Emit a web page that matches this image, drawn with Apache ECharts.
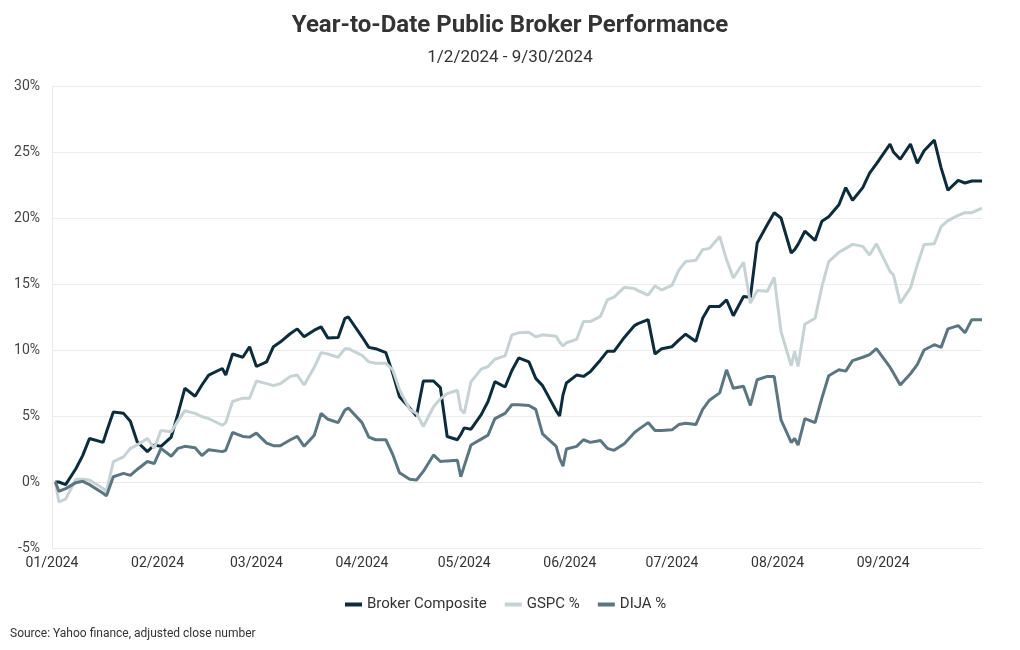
<!DOCTYPE html>
<html>
<head>
<meta charset="utf-8">
<script src="https://cdn.jsdelivr.net/npm/echarts@6/dist/echarts.min.js"></script>
<style>
  html, body { margin: 0; padding: 0; background: #ffffff; }
  #chart { width: 1020px; height: 650px; }
</style>
</head>
<body>
<div id="chart"></div>
<script>
const dates = [
  '2024-01-02','2024-01-03','2024-01-05','2024-01-08','2024-01-10','2024-01-12','2024-01-16','2024-01-17','2024-01-19','2024-01-22','2024-01-24','2024-01-26','2024-01-29','2024-01-31',
  '2024-02-02','2024-02-05','2024-02-07','2024-02-09','2024-02-12','2024-02-14','2024-02-16','2024-02-20','2024-02-21','2024-02-23','2024-02-26','2024-02-28',
  '2024-03-01','2024-03-04','2024-03-06','2024-03-08','2024-03-11','2024-03-13','2024-03-15','2024-03-18','2024-03-20','2024-03-22','2024-03-25','2024-03-27','2024-03-28',
  '2024-04-01','2024-04-03','2024-04-05','2024-04-08','2024-04-10','2024-04-12','2024-04-15','2024-04-17','2024-04-19','2024-04-22','2024-04-24','2024-04-26','2024-04-29','2024-04-30',
  '2024-05-01','2024-05-03','2024-05-06','2024-05-08','2024-05-10','2024-05-13','2024-05-15','2024-05-17','2024-05-20','2024-05-22','2024-05-24','2024-05-28','2024-05-29','2024-05-30','2024-05-31',
  '2024-06-03','2024-06-05','2024-06-07','2024-06-10','2024-06-12','2024-06-14','2024-06-17','2024-06-20','2024-06-21','2024-06-24','2024-06-26','2024-06-28',
  '2024-07-01','2024-07-03','2024-07-05','2024-07-08','2024-07-10','2024-07-12','2024-07-15','2024-07-17','2024-07-19','2024-07-22','2024-07-24','2024-07-26','2024-07-29','2024-07-31',
  '2024-08-02','2024-08-05','2024-08-06','2024-08-07','2024-08-09','2024-08-12','2024-08-14','2024-08-16','2024-08-19','2024-08-21','2024-08-23','2024-08-26','2024-08-28','2024-08-30',
  '2024-09-03','2024-09-04','2024-09-06','2024-09-09','2024-09-11','2024-09-13','2024-09-16','2024-09-18','2024-09-20','2024-09-23','2024-09-25','2024-09-27','2024-09-30'
];

const brokerComposite = [
  0, 0.0, -0.2, 1.0, 2.0, 3.3, 3.0, 3.8, 5.3, 5.2, 4.6, 3.05, 2.3, 2.8,
  2.7, 3.4, 5.2, 7.1, 6.5, 7.35, 8.1, 8.6, 8.1, 9.7, 9.45, 10.25,
  8.75, 9.1, 10.25, 10.6, 11.25, 11.6, 11.0, 11.5, 11.75, 10.9, 10.95, 12.4, 12.5,
  11.0, 10.2, 10.1, 9.8, 8.25, 6.45, 5.6, 5.0, 7.65, 7.65, 7.15, 3.45, 3.2, 3.6,
  4.1, 4.0, 5.1, 6.1, 7.6, 7.2, 8.45, 9.4, 9.1, 7.85, 7.3, 5.4, 5.0, 6.6, 7.5,
  8.1, 8.0, 8.35, 9.25, 9.9, 9.9, 10.95, 11.85, 12.0, 12.3, 9.7, 10.1,
  10.25, 10.75, 11.2, 10.65, 12.4, 13.3, 13.3, 13.8, 12.6, 14.05, 14.0, 18.1, 19.5, 20.4,
  20.0, 17.35, 17.6, 18.0, 19.0, 18.3, 19.75, 20.1, 21.0, 22.3, 21.35, 22.3, 23.4, 24.1,
  25.6, 25.0, 24.45, 25.6, 24.15, 25.1, 25.9, 23.8, 22.1, 22.85, 22.65, 22.8, 22.8
];

const gspcPct = [
  0, -1.5, -1.3, 0.2, 0.2, 0.15, -0.5, -0.7, 1.55, 1.9, 2.55, 2.8, 3.3, 2.55,
  3.9, 3.8, 4.65, 5.4, 5.2, 4.95, 4.8, 4.3, 4.5, 6.1, 6.35, 6.35,
  7.65, 7.45, 7.3, 7.45, 8.0, 8.1, 7.35, 8.7, 9.8, 9.7, 9.45, 10.1, 10.1,
  9.6, 9.1, 9.0, 9.0, 8.5, 7.0, 5.5, 5.2, 4.2, 5.7, 6.3, 6.7, 6.95, 5.5,
  5.2, 7.6, 8.55, 8.75, 9.3, 9.55, 11.15, 11.3, 11.35, 11.0, 11.15, 11.05, 10.6, 10.3, 10.55,
  10.8, 12.15, 12.15, 12.55, 13.8, 14.0, 14.75, 14.65, 14.5, 14.15, 14.85, 14.55,
  14.9, 16.05, 16.7, 16.8, 17.6, 17.7, 18.6, 16.85, 15.45, 16.65, 13.55, 14.5, 14.45, 15.5,
  11.4, 8.8, 9.9, 8.75, 11.95, 12.4, 14.8, 16.7, 17.4, 17.7, 18.0, 17.85, 17.2, 18.05,
  15.95, 15.7, 13.55, 14.7, 16.45, 18.0, 18.05, 19.35, 19.8, 20.2, 20.4, 20.4, 20.75
];

const dijaPct = [
  0, -0.7, -0.5, -0.05, 0.05, -0.2, -0.85, -1.05, 0.4, 0.65, 0.5, 0.95, 1.55, 1.4,
  2.55, 1.95, 2.55, 2.7, 2.6, 2.0, 2.45, 2.3, 2.4, 3.75, 3.45, 3.4,
  3.7, 2.95, 2.75, 2.75, 3.2, 3.45, 2.7, 3.55, 5.2, 4.75, 4.5, 5.45, 5.6,
  4.5, 3.4, 3.2, 3.2, 2.1, 0.7, 0.2, 0.15, 0.8, 2.05, 1.55, 1.6, 1.65, 0.4,
  1.2, 2.8, 3.25, 3.55, 4.8, 5.2, 5.85, 5.85, 5.8, 5.5, 3.65, 2.7, 1.8, 1.2, 2.5,
  2.7, 3.2, 3.0, 3.15, 2.55, 2.4, 2.9, 3.75, 3.95, 4.5, 3.9, 3.9,
  3.95, 4.35, 4.45, 4.35, 5.5, 6.2, 6.75, 8.5, 7.1, 7.25, 5.8, 7.75, 8.0, 8.0,
  4.7, 3.0, 3.3, 2.8, 4.8, 4.5, 6.35, 8.05, 8.5, 8.4, 9.2, 9.45, 9.65, 10.1,
  8.7, 8.25, 7.35, 8.2, 8.9, 10.0, 10.4, 10.2, 11.6, 11.85, 11.3, 12.3, 12.3
];

const seriesNames = ['Broker Composite', 'GSPC %', 'DIJA %'];
const yTicks = [-5, 0, 5, 10, 15, 20, 25, 30];

const FONT = 'Roboto, "Noto Sans", sans-serif';
const colors = ['#0c2b3b', '#c6d2d4', '#5b7680'];

function pairs(vals) { return dates.map((d, i) => [d, vals[i]]); }

const chart = echarts.init(document.getElementById('chart'), null, { renderer: 'canvas' });
chart.setOption({
  animation: false,
  backgroundColor: '#ffffff',
  color: colors,
  textStyle: { fontFamily: FONT },
  title: {
    text: 'Year-to-Date Public Broker Performance',
    subtext: '1/2/2024 - 9/30/2024',
    left: 'center',
    top: 9,
    itemGap: 11,
    textStyle: { fontFamily: FONT, fontSize: 24, fontWeight: 'bold', color: '#333333' },
    subtextStyle: { fontFamily: FONT, fontSize: 17, color: '#333333' }
  },
  legend: {
    data: seriesNames,
    left: 340,
    top: 592,
    icon: 'rect',
    itemWidth: 17,
    itemHeight: 4,
    itemGap: 18,
    textStyle: { fontFamily: FONT, fontSize: 15, color: '#333333' }
  },
  graphic: [{
    type: 'text',
    left: 10,
    top: 628,
    style: { text: 'Source: Yahoo finance, adjusted close number', font: '12px ' + FONT, fill: '#333333' }
  }],
  grid: { left: 52, right: 38, top: 86, bottom: 102, containLabel: false },
  xAxis: {
    type: 'time',
    min: '2024-01-01',
    max: '2024-09-30',
    splitNumber: 9,
    axisLine: { show: true, lineStyle: { color: '#e8e8e8' } },
    axisTick: { show: false },
    splitLine: { show: false },
    axisLabel: {
      color: '#333333',
      fontSize: 14,
      fontFamily: FONT,
      margin: 8,
      hideOverlap: true,
      formatter: function (val) {
        const d = new Date(val);
        const m = d.getMonth() + 1;
        return (m < 10 ? '0' + m : m) + '/' + d.getFullYear();
      }
    }
  },
  yAxis: {
    type: 'value',
    min: yTicks[0],
    max: yTicks[yTicks.length - 1],
    interval: 5,
    axisLine: { show: true, lineStyle: { color: '#e8e8e8' } },
    axisTick: { show: false },
    splitLine: { show: true, lineStyle: { color: '#ececec', width: 1 } },
    axisLabel: { color: '#444444', fontSize: 14, fontFamily: FONT, margin: 12, formatter: '{value}%' }
  },
  series: [
    { name: seriesNames[0], type: 'line', data: pairs(brokerComposite), showSymbol: false, lineStyle: { width: 3, color: colors[0] }, itemStyle: { color: colors[0] } },
    { name: seriesNames[1], type: 'line', data: pairs(gspcPct), showSymbol: false, lineStyle: { width: 3, color: colors[1] }, itemStyle: { color: colors[1] } },
    { name: seriesNames[2], type: 'line', data: pairs(dijaPct), showSymbol: false, lineStyle: { width: 3, color: colors[2] }, itemStyle: { color: colors[2] } }
  ]
});
</script>
</body>
</html>
